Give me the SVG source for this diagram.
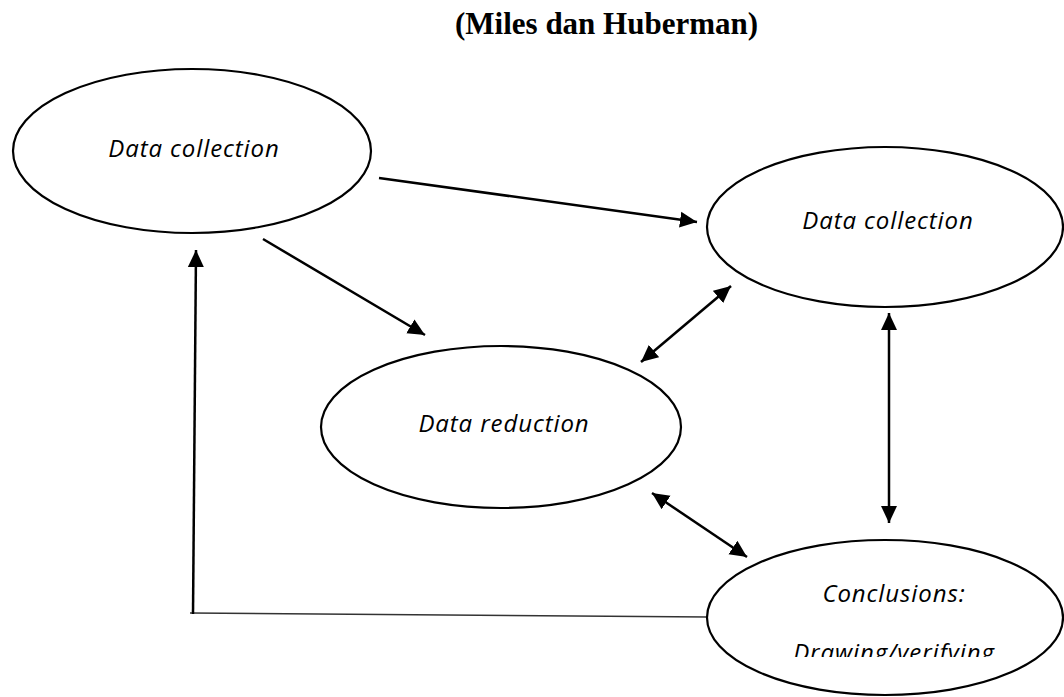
<svg xmlns="http://www.w3.org/2000/svg" width="1064" height="697" viewBox="0 0 1064 697">
  <style>
    .node { fill: #fff; stroke: #000; stroke-width: 2.2; }
    .label { font-family: "Open Sans", "Liberation Sans", sans-serif; font-style: italic; font-size: 24px; letter-spacing: 0.9px; fill: #000; text-anchor: middle; }
    .title { font-family: "Liberation Serif", "Times New Roman", serif; font-weight: bold; font-size: 31px; fill: #000; }
    .edge { fill: none; stroke: #000; stroke-width: 2.5; }
    .thin { fill: none; stroke: #333; stroke-width: 1.6; }
  </style>
  <defs>
    <marker id="arrow" markerUnits="userSpaceOnUse" markerWidth="18" markerHeight="18" viewBox="0 0 18 18" refX="17" refY="9" orient="auto-start-reverse">
      <path d="M0,1 L17,9 L0,17 z" fill="#000"/>
    </marker>
    <clipPath id="clip-conclusions">
      <rect x="700" y="530" width="364" height="127"/>
    </clipPath>
  </defs>

  <rect width="1064" height="697" fill="#fff"/>

  <text class="title" x="455" y="34">(Miles dan Huberman)</text>

  <g id="connectors">
    <line class="edge" x1="379" y1="178" x2="697" y2="222" marker-end="url(#arrow)"/>
    <line class="edge" x1="263" y1="239" x2="425" y2="335" marker-end="url(#arrow)"/>
    <line class="edge" x1="641" y1="362" x2="731" y2="286" marker-start="url(#arrow)" marker-end="url(#arrow)"/>
    <line class="edge" x1="889" y1="313" x2="889" y2="523" marker-start="url(#arrow)" marker-end="url(#arrow)"/>
    <line class="edge" x1="652" y1="493" x2="747" y2="557" marker-start="url(#arrow)" marker-end="url(#arrow)"/>
    <line class="thin" x1="190" y1="613" x2="708" y2="617"/>
    <line class="edge" x1="193" y1="614" x2="196" y2="250" marker-end="url(#arrow)"/>
  </g>

  <g id="node-collection-1">
    <ellipse class="node" cx="192" cy="151" rx="179" ry="82"/>
    <text class="label" x="194" y="157">Data collection</text>
  </g>

  <g id="node-collection-2">
    <ellipse class="node" cx="885" cy="227" rx="178" ry="80"/>
    <text class="label" x="888" y="229">Data collection</text>
  </g>

  <g id="node-reduction">
    <ellipse class="node" cx="501" cy="427" rx="180" ry="81"/>
    <text class="label" x="504" y="432">Data reduction</text>
  </g>

  <g id="node-conclusions">
    <ellipse class="node" cx="885" cy="617.5" rx="178" ry="77.5"/>
    <text class="label" x="894" y="602">Conclusions:</text>
    <text class="label" x="894" y="661" clip-path="url(#clip-conclusions)">Drawing/verifying</text>
  </g>
</svg>
